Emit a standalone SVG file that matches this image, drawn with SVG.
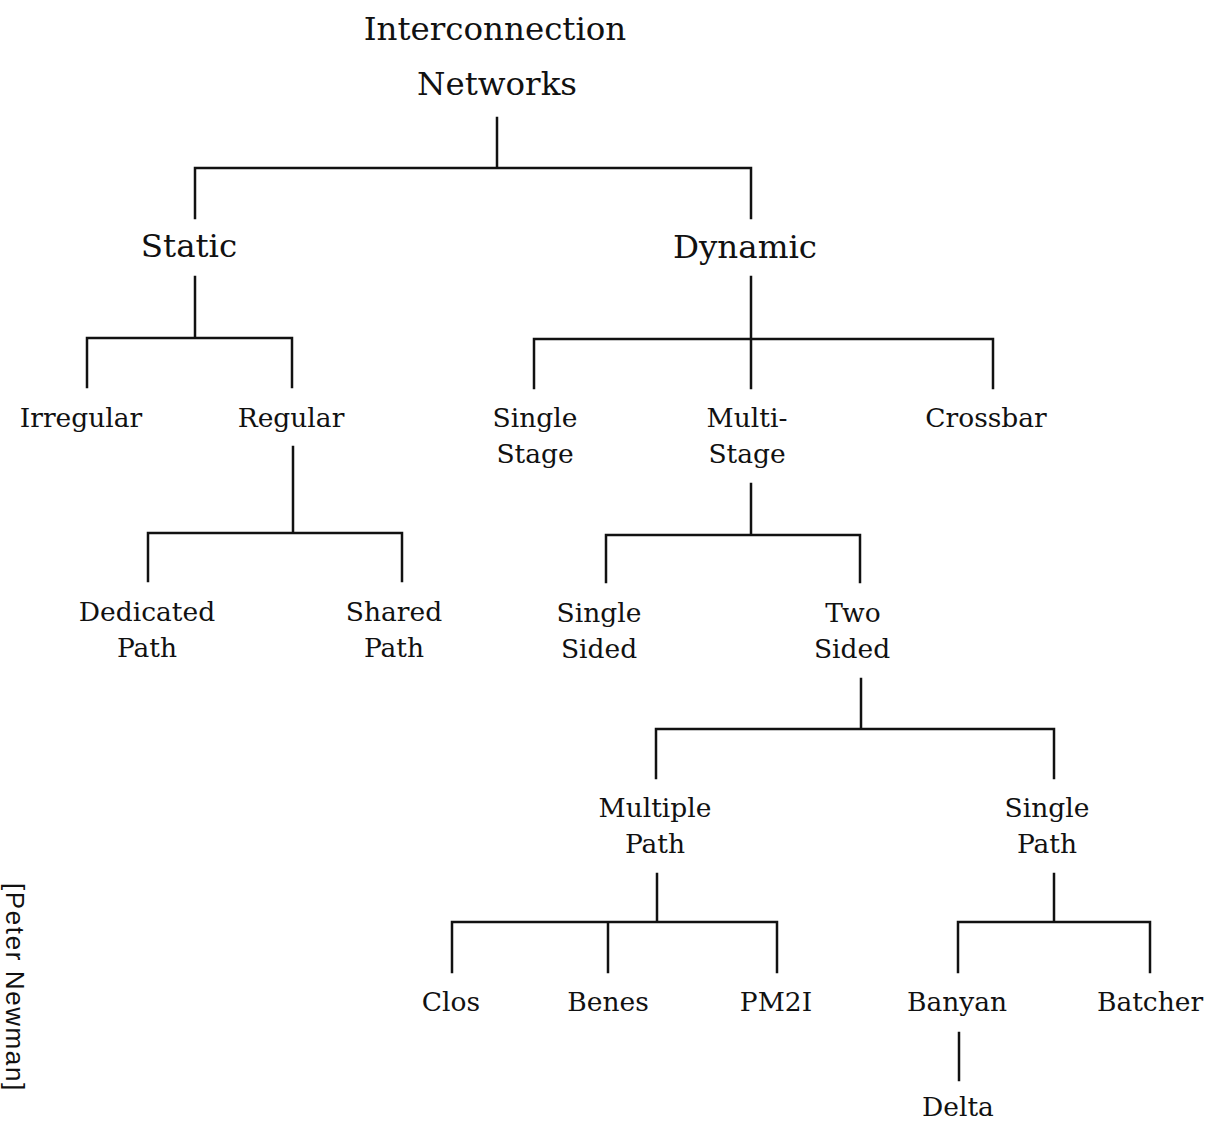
<svg xmlns="http://www.w3.org/2000/svg" width="1210" height="1123" viewBox="0 0 1210 1123">
  <style>
    .lbl { font-family: "DejaVu Serif", "Liberation Serif", serif; fill: #111; text-anchor: middle; }
    .big { font-size: 32.5px; }
    .sm { font-size: 26.5px; }
    .edge { stroke: #111; stroke-width: 2.5; fill: none; stroke-linecap: square; }
    .credit { font-family: "Liberation Sans", Arial, sans-serif; font-size: 26px; letter-spacing: 1.6px; fill: #111; }
  </style>
  <rect width="1210" height="1123" fill="#fff"/>

  <!-- tree connectors -->
  <g id="connectors" class="edge">
    <path d="M497 118 V168 M195 168 H751 M195 168 V218 M751 168 V218"/>
    <path d="M195 277 V338 M87 338 H292 M87 338 V387 M292 338 V387"/>
    <path d="M293 447 V533 M148 533 H402 M148 533 V581 M402 533 V581"/>
    <path d="M751 277 V388 M534 339 H993 M534 339 V388 M993 339 V388"/>
    <path d="M751 484 V535 M606 535 H860 M606 535 V582 M860 535 V582"/>
    <path d="M861 679 V729 M656 729 H1054 M656 729 V778 M1054 729 V778"/>
    <path d="M657 874 V922 M452 922 H777 M452 922 V972 M608 922 V972 M777 922 V972"/>
    <path d="M1054 874 V922 M958 922 H1150 M958 922 V972 M1150 922 V972"/>
    <path d="M959 1033 V1080"/>
  </g>

  <g id="root" class="lbl big">
    <text x="495" y="40">Interconnection</text>
    <text x="497" y="95">Networks</text>
  </g>
  <g id="static" class="lbl big"><text x="189" y="257">Static</text></g>
  <g id="dynamic" class="lbl big"><text x="745" y="258">Dynamic</text></g>

  <g id="irregular" class="lbl sm"><text x="81" y="427">Irregular</text></g>
  <g id="regular" class="lbl sm"><text x="291" y="427">Regular</text></g>
  <g id="dedicated-path" class="lbl sm">
    <text x="147" y="621">Dedicated</text>
    <text x="147" y="657">Path</text>
  </g>
  <g id="shared-path" class="lbl sm">
    <text x="394" y="621">Shared</text>
    <text x="394" y="657">Path</text>
  </g>

  <g id="single-stage" class="lbl sm">
    <text x="535" y="427">Single</text>
    <text x="535" y="463">Stage</text>
  </g>
  <g id="multi-stage" class="lbl sm">
    <text x="747" y="427">Multi-</text>
    <text x="747" y="463">Stage</text>
  </g>
  <g id="crossbar" class="lbl sm"><text x="986" y="427">Crossbar</text></g>

  <g id="single-sided" class="lbl sm">
    <text x="599" y="622">Single</text>
    <text x="599" y="658">Sided</text>
  </g>
  <g id="two-sided" class="lbl sm">
    <text x="853" y="622">Two</text>
    <text x="852" y="658">Sided</text>
  </g>

  <g id="multiple-path" class="lbl sm">
    <text x="655" y="817">Multiple</text>
    <text x="655" y="853">Path</text>
  </g>
  <g id="single-path" class="lbl sm">
    <text x="1047" y="817">Single</text>
    <text x="1047" y="853">Path</text>
  </g>

  <g id="clos" class="lbl sm"><text x="451" y="1011">Clos</text></g>
  <g id="benes" class="lbl sm"><text x="608" y="1011">Benes</text></g>
  <g id="pm2i" class="lbl sm"><text x="776" y="1011">PM2I</text></g>
  <g id="banyan" class="lbl sm"><text x="957" y="1011">Banyan</text></g>
  <g id="batcher" class="lbl sm"><text x="1150" y="1011">Batcher</text></g>
  <g id="delta" class="lbl sm"><text x="958" y="1116">Delta</text></g>

  <!-- side credit, reading top to bottom -->
  <text class="credit" transform="translate(6 883) rotate(90)">[Peter Newman]</text>
</svg>
